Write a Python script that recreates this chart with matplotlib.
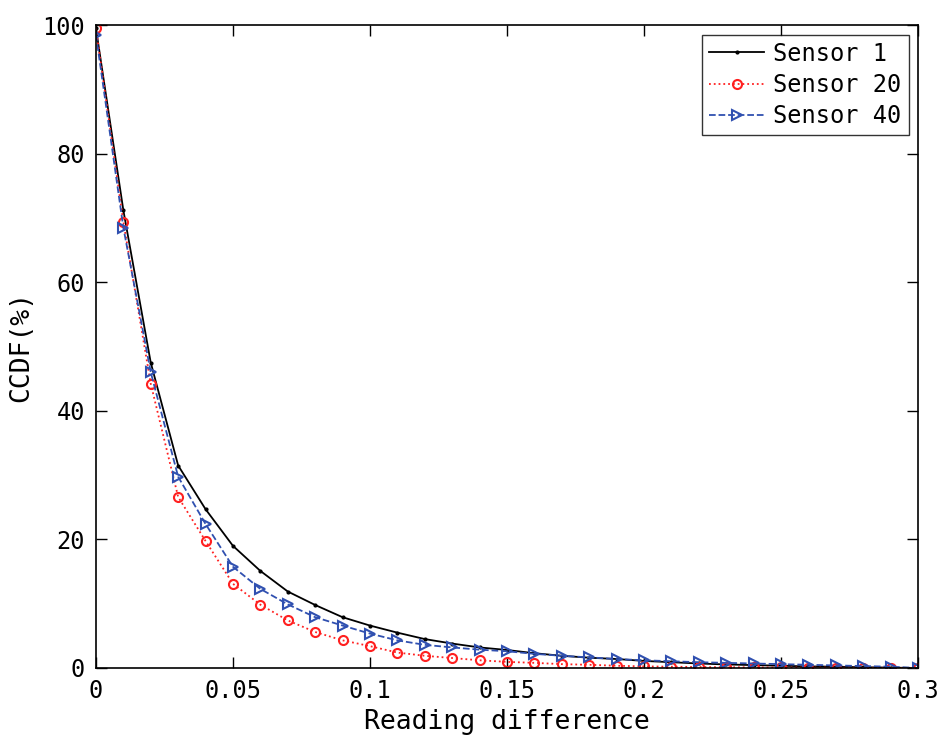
import matplotlib
matplotlib.use("Agg")
import matplotlib.pyplot as plt
import numpy as np

x = [round(0.01 * i, 2) for i in range(31)]
sensor1 = [99.5, 71.2, 47.5, 31.5, 24.7, 19.0, 15.1, 11.9, 9.8, 7.9, 6.6,
           5.5, 4.5, 3.8, 3.2, 2.8, 2.3, 1.9, 1.6, 1.4, 1.1,
           0.9, 0.7, 0.55, 0.45, 0.35, 0.25, 0.2, 0.12, 0.06, 0.0]
sensor20 = [99.5, 69.4, 44.2, 26.6, 19.75, 13.1, 9.85, 7.4, 5.6, 4.3, 3.4,
            2.4, 1.9, 1.55, 1.2, 0.95, 0.8, 0.6, 0.5, 0.35, 0.25,
            0.2, 0.15, 0.12, 0.1, 0.08, 0.06, 0.05, 0.03, 0.02, 0.0]
sensor40 = [98.5, 68.5, 46.0, 29.75, 22.4, 15.75, 12.3, 9.9, 7.9, 6.6, 5.35,
            4.3, 3.6, 3.2, 2.85, 2.6, 2.2, 1.9, 1.65, 1.4, 1.2,
            1.05, 0.9, 0.8, 0.7, 0.6, 0.5, 0.4, 0.3, 0.2, 0.0]
labels = ["Sensor 1", "Sensor 20", "Sensor 40"]
xticks = [0, 0.05, 0.1, 0.15, 0.2, 0.25, 0.3]
xticklabels = ["0", "0.05", "0.1", "0.15", "0.2", "0.25", "0.3"]
yticks = [0, 20, 40, 60, 80, 100]

plt.rcParams['font.family'] = ['DejaVu Sans Mono']
plt.rcParams['font.size'] = 15

fig = plt.figure(figsize=(9.38, 7.4), dpi=100)
ax = fig.add_axes([0.1023, 0.0973, 0.8764, 0.8687])

ax.plot(x, sensor1, '-', color='black', lw=1.3, marker='.', markersize=4, label=labels[0])
ax.plot(x, sensor20, ':', color='#FF2020', lw=1.3, marker='o', markersize=6.5,
        markerfacecolor='none', markeredgewidth=1.5, label=labels[1])
ax.plot(x, sensor40, '--', color='#3050B0', lw=1.3, marker='>', markersize=7.5,
        markerfacecolor='none', markeredgewidth=1.5, label=labels[2])

ax.set_xlim(0, 0.3)
ax.set_ylim(0, 100)
ax.set_xticks(xticks)
ax.set_xticklabels(xticklabels)
ax.set_yticks(yticks)
ax.tick_params(direction='in', top=True, right=True, length=8, width=1, labelsize=17, pad=8)
for s in ax.spines.values():
    s.set_linewidth(1.2)
ax.set_xlabel("Reading difference", fontsize=19, labelpad=4)
ax.set_ylabel("CCDF(%)", fontsize=19, labelpad=6)

leg = ax.legend(loc='upper right', fontsize=17, frameon=True, fancybox=False,
                edgecolor='black', handlelength=2.3, borderpad=0.3, labelspacing=0.3,
                handletextpad=0.4, borderaxespad=0.4)
leg.get_frame().set_linewidth(1.0)

fig.savefig("out.png", dpi=100)
